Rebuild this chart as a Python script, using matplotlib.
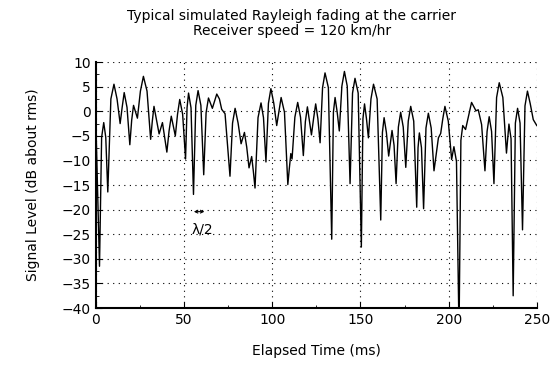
import matplotlib
matplotlib.use("Agg")
import matplotlib.pyplot as plt
from matplotlib.ticker import MultipleLocator

# Values: fading envelope (extrema and shoulders of each lobe)
time_ms = [0, 2.0, 3.2, 4.4, 5.55, 6.7, 8.45, 10.2, 11.95, 13.7, 14.85, 16, 17.6, 19.2,
           20.25, 21.3, 22.4, 23.5, 25.2, 26.9, 28.95, 31, 31.95, 32.9, 34.35, 35.8,
           36.75, 37.7, 38.95, 40.2, 41.45, 42.7, 43.85, 45, 46.25, 47.5, 49.15, 50.8,
           51.65, 52.5, 53.9, 55.3, 56.6, 57.9, 59.5, 61.1, 62.45, 63.8, 64.9, 66,
           67.25, 68.5, 70, 71.3, 73.2, 76, 77.45, 78.9, 80.6, 82.3, 83.25, 84.2, 85.5,
           86.8, 87.55, 88.3, 89.25, 90.2, 91.9, 93.6, 95.0, 96.4, 97.8, 99.2, 100.85,
           102.5, 103.75, 105, 106.9, 108.8, 109.65, 110.5, 111.2, 112.8, 114.4, 116.0,
           117.6, 118.75, 119.9, 121.05, 122.2, 123.4, 124.6, 125.85, 127.1, 128.5,
           129.9, 131.8, 133.7, 134.65, 135.6, 136.8, 138, 139.45, 140.9, 142.5, 144.1,
           145.5, 146.9, 148.7, 150.5, 151.4, 152.3, 153.4, 154.5, 155.95, 157.4,
           159.45, 161.5, 162.45, 163.4, 164.7, 166, 166.95, 167.9, 169.05, 170.2,
           171.5, 172.8, 174.25, 175.7, 177.1, 178.5, 180.2, 181.9, 182.65, 183.4,
           184.6, 185.8, 187.15, 188.5, 190.1, 191.7, 194.2, 195.5, 196.7, 197.9,
           199.8, 201.7, 202.35, 203, 204.45, 205.9, 206.95, 208, 208.8, 209.6, 211.3,
           213, 214.25, 215.5, 216.8, 218.7, 220.6, 221.8, 223, 224.35, 225.7, 227.2,
           228.7, 230.75, 232.8, 233.5, 234.2, 235.4, 236.6, 237.85, 239.1, 240.5,
           241.9, 243.3, 244.7, 246.3, 248, 250]
level_db = [-3, -31.5, -5.3, -2.3, -5.3, -16.4, 2.5, 5.5, 2.5, -2.5, 0.8, 3.8, 0.8, -6.8,
            -1.8, 1.2, -0.1, -1.4, 4.1, 7.1, 4.1, -5.7, -2.0, 1.0, -1.8, -4.6,
            -3.45, -2.3, -5.3, -8.3, -4.0, -1.0, -3.0, -5.0, -0.6, 2.4, -0.6, -9.7,
            0.7, 3.7, 0.7, -16.9, 1.2, 4.2, 1.2, -12.9, -0.3, 2.7, 1.65, 0.6,
            2.05, 3.5, 2.5, 0.4, -0.5, -13.2, -2.4, 0.6, -2.4, -6.6, -5.45, -4.3, -7.3,
            -11.5, -10.35, -9.2, -12.2, -15.6, -1.3, 1.7, -1.3, -10.3, 1.6, 4.6, 1.6,
            -2.9, -0.05, 2.8, -0.2, -14.9, -11.6, -8.6, -9.7, -1.2, 1.8, -1.2,
            -9.0, -2.1, 0.9, -1.95, -4.8, -1.5, 1.5, -1.5, -6.4, 4.8,
            7.8, 4.8, -26.0, -0.2, 2.8, -0.2, -4.0, 5.1, 8.1, 5.1, -14.7,
            3.7, 6.7, 3.7, -27.6, -1.5, 1.5, -1.5, -5.4, 2.5, 5.5,
            2.5, -22.1, -4.3, -1.3, -4.3, -9.1, -6.5, -3.9, -6.9, -14.7,
            -3.2, -0.2, -3.2, -11.4, -2.0, 1.0, -2.0, -19.5, -7.4, -4.4,
            -7.4, -19.8, -3.4, -0.4, -3.4, -12.1, -5.4, -4.5, -1.5, 1.0,
            -2.0, -9.8, -8.5, -7.2, -10.2, -45.0, -5.9, -2.9, -3.3, -3.7, -0.95,
            1.8, 0.95, 0.1, 0.3, -2.7, -12.1, -4.1, -1.1, -4.1, -14.7, 2.8,
            5.8, 2.8, -8.5, -5.6, -2.6, -5.6, -37.5, -2.4, 0.6, -2.4,
            -24.1, 1.1, 4.1, 1.5, -1.7, -2.9]

x_ticks = [0, 50, 100, 150, 200, 250]
y_ticks = [-40, -35, -30, -25, -20, -15, -10, -5, 0, 5, 10]

fig = plt.figure(figsize=(5.58, 3.88), dpi=100)
ax = fig.add_axes([0.172, 0.206, 0.79, 0.634])
ax.plot(time_ms, level_db, color="black", lw=1.0)
ax.set_xlim(0, 250)
ax.set_ylim(-40, 10)
ax.set_xticks(x_ticks)
ax.set_yticks(y_ticks)
ax.xaxis.set_minor_locator(MultipleLocator(25))
ax.yaxis.set_minor_locator(MultipleLocator(2.5))
ax.tick_params(which="both", direction="in", labelsize=10)
ax.tick_params(which="major", length=4)
ax.tick_params(which="minor", length=2)
ax.grid(True, which="major", linestyle=(0, (1, 4)), color="black", lw=0.8)
ax.spines["top"].set_visible(False)
ax.spines["right"].set_visible(False)
ax.spines["left"].set_linewidth(1.5)
ax.spines["bottom"].set_linewidth(1.5)
ax.set_xlabel("Elapsed Time (ms)", fontsize=10, labelpad=12)
ax.set_ylabel("Signal Level (dB about rms)", fontsize=10, labelpad=16)
fig.text(0.523, 0.977, "Typical simulated Rayleigh fading at the carrier\nReceiver speed = 120 km/hr",
         fontsize=10, ha="center", va="top", linespacing=1.1)

ax.annotate("", xy=(61.5, -20.4), xytext=(55.5, -20.4),
            arrowprops=dict(arrowstyle="<->", lw=0.8, color="black",
                            mutation_scale=5, shrinkA=0, shrinkB=0))
ax.text(54.5, -24, "λ/2", fontsize=10, va="center", ha="left")

fig.savefig("out.png", dpi=100)
